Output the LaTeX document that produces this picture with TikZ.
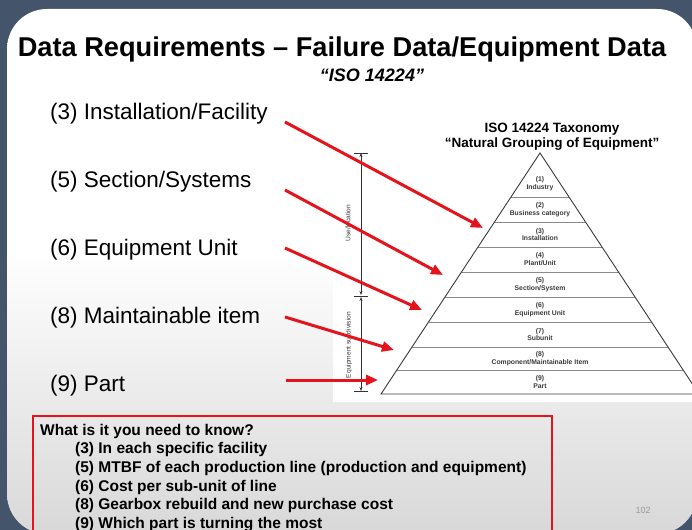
\documentclass[tikz,border=0pt]{standalone}
\usepackage{fontspec}
\setmainfont{Liberation Sans}
\usetikzlibrary{arrows.meta}

\definecolor{framecol}{HTML}{44546A}
\definecolor{slidelow}{HTML}{D8D8D8}
\definecolor{alert}{HTML}{E5141C}
\definecolor{inkgrey}{HTML}{3A3A3A}
\definecolor{tiergrey}{HTML}{8A8A8A}

% slide background: white in the upper half, fading to light grey at the bottom
\pgfdeclareverticalshading{slidefade}{100bp}{%
  color(0bp)=(slidelow); color(25bp)=(slidelow); color(52bp)=(white); color(100bp)=(white)}

\begin{document}
\begin{tikzpicture}[x=1bp,y=-1bp,
  title/.style={inner sep=0pt, anchor=base, font=\fontsize{27.2bp}{31bp}\selectfont\bfseries},
  subtitle/.style={inner sep=0pt, anchor=base, font=\fontsize{18bp}{21bp}\selectfont\bfseries\itshape},
  lbl/.style={inner sep=0pt, anchor=base west, font=\fontsize{22.5bp}{26bp}\selectfont},
  pointer/.style={draw=alert, line width=3bp, -{Triangle[length=12bp,width=10bp]}},
  pyr/.style={draw=inkgrey, line width=0.9bp, line join=miter},
  tierline/.style={draw=tiergrey, line width=0.9bp},
  tier/.style={align=center, inner sep=0pt, text=inkgrey,
    font=\fontsize{6.8bp}{7.8bp}\selectfont\bfseries},
  pyrtitle/.style={inner sep=0pt, anchor=base, font=\fontsize{13.5bp}{16bp}\selectfont\bfseries},
  dimline/.style={draw=black!80, line width=0.6bp},
  dimtip/.style={dimline, {Stealth[length=4bp,width=3bp]}-{Stealth[length=4bp,width=3bp]}},
  dimtext/.style={inner sep=0pt, rotate=90, text=inkgrey, font=\fontsize{6.6bp}{8bp}\selectfont},
  askbox/.style={draw=alert, line width=1.8bp, anchor=north west, inner sep=0pt,
    minimum width=519bp, minimum height=140bp},
  askhead/.style={inner sep=0pt, anchor=base west, font=\fontsize{15.5bp}{18bp}\selectfont\bfseries},
  askitem/.style={askhead}
]
\useasboundingbox (0,0) rectangle (692,530);
\clip (0,0) rectangle (692,530);

% frame and slide
\fill[framecol] (0,0) rectangle (692,530);
\shade[shading=slidefade, rounded corners=40bp] (7,9) rectangle (697,534);

% white panel behind the taxonomy figure
\fill[white] (333,110) rectangle (692,402);

% heading
\node[title] (head) at (342,57) {Data Requirements – Failure Data/Equipment Data};
\node[subtitle] (sub) at (372,82) {“ISO 14224”};

% hierarchy levels on the left
\node[lbl] (l3) at (50,120) {(3) Installation/Facility};
\node[lbl] (l5) at (50,188) {(5) Section/Systems};
\node[lbl] (l6) at (50,256) {(6) Equipment Unit};
\node[lbl] (l8) at (50,323) {(8) Maintainable item};
\node[lbl] (l9) at (50,391) {(9) Part};

% taxonomy pyramid
\node[pyrtitle] (ptitle1) at (552,133) {ISO 14224 Taxonomy};
\node[pyrtitle] (ptitle2) at (552,148) {“Natural Grouping of Equipment”};

\coordinate (apex) at (540,153);
\coordinate (bl) at (381,394);
\coordinate (br) at (699,394);
\foreach \yy in {197,222,247,272,297,322,347,370}{
  \pgfmathsetmacro\hw{(\yy-153)/241*159}
  \draw[tierline] (540-\hw,\yy) -- (540+\hw,\yy);
}
\draw[pyr] (apex) -- (bl) -- (br) -- cycle;

\node[tier] (t1) at (540,184)   {(1)\\Industry};
\node[tier] (t2) at (540,209.5) {(2)\\Business category};
\node[tier] (t3) at (540,234.5) {(3)\\Installation};
\node[tier] (t4) at (540,259.5) {(4)\\Plant/Unit};
\node[tier] (t5) at (540,284.5) {(5)\\Section/System};
\node[tier] (t6) at (540,309.5) {(6)\\Equipment Unit};
\node[tier] (t7) at (540,334.5) {(7)\\Subunit};
\node[tier] (t8) at (540,358.5) {(8)\\Component/Maintainable Item};
\node[tier] (t9) at (540,382)   {(9)\\Part};

% dimension bar beside the pyramid
\coordinate (dtop) at (361,153);
\coordinate (dmidA) at (361,295);
\coordinate (dmidB) at (361,297);
\coordinate (dbot) at (361,391);
\draw[dimline] (354,153) -- (368,153);
\draw[dimline] (354,296) -- (368,296);
\draw[dimline] (354,391) -- (368,391);
\draw[dimtip] (dtop) -- (dmidA);
\draw[dimtip] (dmidB) -- (dbot);
\node[dimtext] (use) at (348,223) {Use/location};
\node[dimtext] (subdiv) at (349,345) {Equipment subdivision};

% pointers from the levels to the pyramid
\coordinate (s3) at (285,122);  \coordinate (e3) at (483,228);
\coordinate (s5) at (285,190);  \coordinate (e5) at (443,275);
\coordinate (s6) at (285,248);  \coordinate (e6) at (422,310);
\coordinate (s8) at (285,317);  \coordinate (e8) at (394,350);
\coordinate (s9) at (286,380);  \coordinate (e9) at (378,380);
\draw[pointer] (s3) -- (e3);
\draw[pointer] (s5) -- (e5);
\draw[pointer] (s6) -- (e6);
\draw[pointer] (s8) -- (e8);
\draw[pointer] (s9) -- (e9);

% questions box
\node[askbox] (ask) at (32,415) {};
\node[askhead] (q0) at (40,435) {What is it you need to know?};
\node[askitem] (q3) at (75,453.5) {(3) In each specific facility};
\node[askitem] (q5) at (75,472) {(5) MTBF of each production line (production and equipment)};
\node[askitem] (q6) at (75,491) {(6) Cost per sub-unit of line};
\node[askitem] (q8) at (75,509.5) {(8) Gearbox rebuild and new purchase cost};
\node[askitem] (q9) at (75,528) {(9) Which part is turning the most};

% slide number
\node[inner sep=0pt, text=black!40, font=\fontsize{9bp}{10bp}\selectfont] (pg) at (643,510) {102};
\end{tikzpicture}
\end{document}
